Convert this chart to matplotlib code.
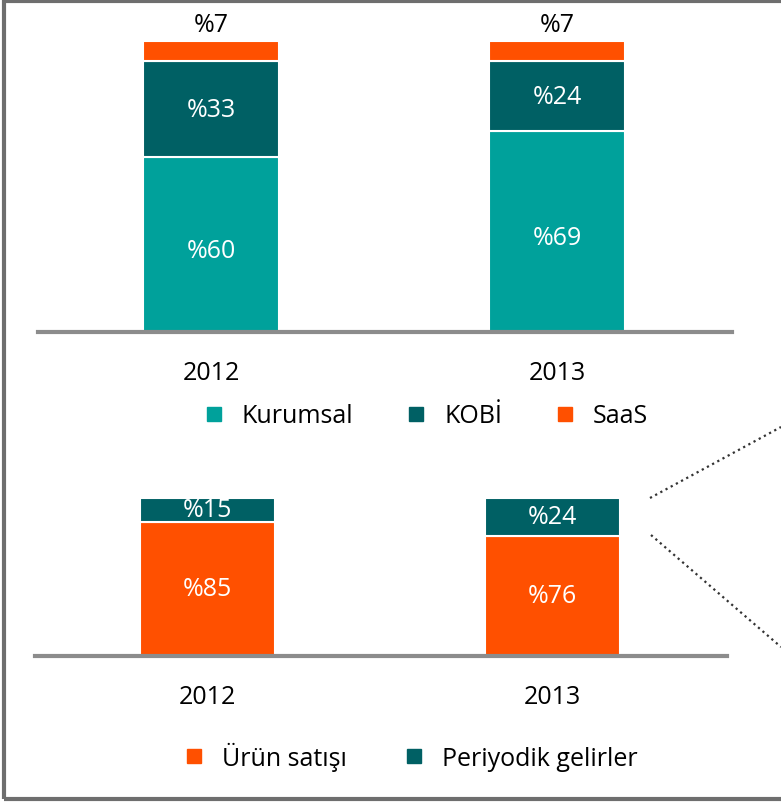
import matplotlib.pyplot as plt
from matplotlib.patches import Rectangle
from matplotlib.lines import Line2D

plt.rcParams['font.family'] = ['Open Sans', 'DejaVu Sans']

# veriler
yillar = ["2012", "2013"]
kurumsal = [60, 69]
kobi = [33, 24]
saas = [7, 7]
urun = [85, 76]
periyodik = [15, 24]

c_acik = '#00A19B'
c_koyu = '#006064'
c_turuncu = '#FF5000'

W, H = 781, 803
fig = plt.figure(figsize=(W / 100, H / 100), dpi=100)
fs = 18


def eksen(x0, x1, y_alt, yuk):
    # piksel koordinatlarindan eksen olustur
    return fig.add_axes([x0 / W, (H - y_alt) / H, (x1 - x0) / W, yuk / H])


def sade(ax):
    for s in ['top', 'right', 'left']:
        ax.spines[s].set_visible(False)
    ax.spines['bottom'].set_color('#8c8c8c')
    ax.spines['bottom'].set_linewidth(3)
    ax.set_yticks([])
    ax.set_ylim(0, 100)
    ax.set_xlim(-0.5, 1.506)
    ax.set_xticks(range(len(yillar)))
    ax.set_xticklabels(yillar, fontsize=fs)
    ax.tick_params(axis='x', length=0, pad=20)
    ax.set_facecolor('none')


x = range(len(yillar))
gen = 0.393
kenar = dict(edgecolor='white', linewidth=1.5)

# ust grafik
ax1 = eksen(38, 732, 333, 291)
ax1.bar(x, kurumsal, gen, color=c_acik, **kenar)
ax1.bar(x, kobi, gen, bottom=kurumsal, color=c_koyu, **kenar)
alt3 = [a + b for a, b in zip(kurumsal, kobi)]
ax1.bar(x, saas, gen, bottom=alt3, color=c_turuncu, **kenar)
sade(ax1)
for i in x:
    ax1.text(i, kurumsal[i] / 2 - 2, f"%{kurumsal[i]}", ha='center', va='center', color='white', fontsize=fs)
    ax1.text(i, kurumsal[i] + kobi[i] / 2, f"%{kobi[i]}", ha='center', va='center', color='white', fontsize=fs)
    ax1.text(i, alt3[i] + saas[i] + 5.5, f"%{saas[i]}", ha='center', va='center', color='black', fontsize=fs, clip_on=False)

sq = dict(marker='s', linestyle='none', markersize=10)
h1 = [Line2D([], [], color=c, **sq) for c in (c_acik, c_koyu, c_turuncu)]
fig.legend(h1, ['Kurumsal', 'KOBİ', 'SaaS'], loc='center left', bbox_to_anchor=(204 / W, (H - 417) / H),
           ncol=3, frameon=False, fontsize=fs, handlelength=0.8, handletextpad=0.72, columnspacing=2.1,
           borderpad=0, borderaxespad=0)

# alt grafik
ax2 = eksen(35, 727, 657, 158)
ax2.bar(x, urun, gen, color=c_turuncu, **kenar)
ax2.bar(x, periyodik, gen, bottom=urun, color=c_koyu, **kenar)
sade(ax2)
for i in x:
    ax2.text(i, urun[i] / 2, f"%{urun[i]}", ha='center', va='center', color='white', fontsize=fs)
    ax2.text(i, urun[i] + periyodik[i] / 2, f"%{periyodik[i]}", ha='center', va='center', color='white', fontsize=fs)

h2 = [Line2D([], [], color=c, **sq) for c in (c_turuncu, c_koyu)]
fig.legend(h2, ['Ürün satışı', 'Periyodik gelirler'], loc='center left', bbox_to_anchor=(184 / W, (H - 757) / H),
           ncol=2, frameon=False, fontsize=fs, handlelength=0.8, handletextpad=0.72, columnspacing=2.3,
           borderpad=0, borderaxespad=0)

# yakinlastirma cizgileri
fig.add_artist(Line2D([650 / W, 1.0], [(H - 499) / H, (H - 428) / H], transform=fig.transFigure,
                      linestyle=':', color='#333333', linewidth=1.6))
fig.add_artist(Line2D([651 / W, 1.0], [(H - 536) / H, (H - 648) / H], transform=fig.transFigure,
                      linestyle=':', color='#333333', linewidth=1.6))

# cerceve
fig.add_artist(Rectangle((4 / W, 3 / H), 1.2, 1 - 5 / H, transform=fig.transFigure,
                         fill=False, edgecolor='#6e6e6e', linewidth=3))

fig.savefig('out.png', dpi=100)
